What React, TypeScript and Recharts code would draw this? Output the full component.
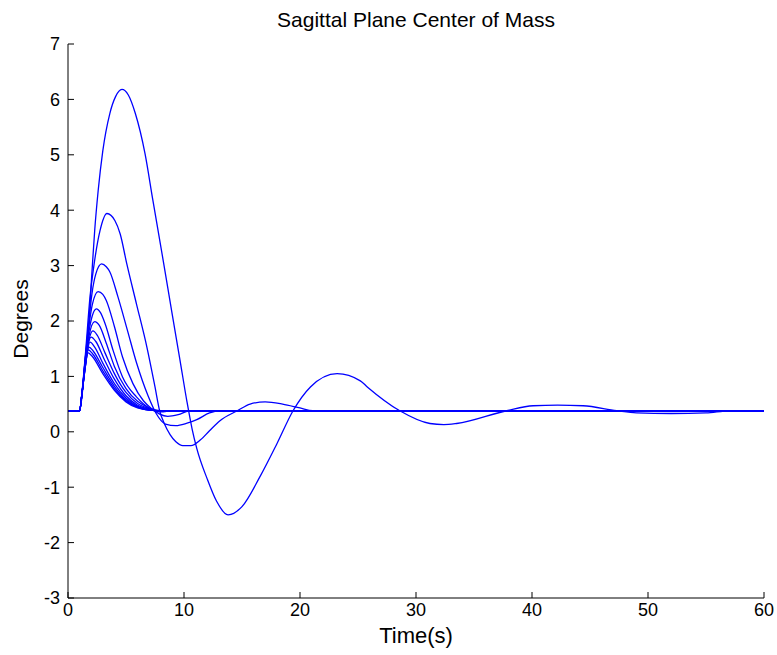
import React from 'react';
import { LineChart, Line, XAxis, YAxis } from 'recharts';

const xTicks = [0, 10, 20, 30, 40, 50, 60];
const yTicks = [-3, -2, -1, 0, 1, 2, 3, 4, 5, 6, 7];

const c1Time = [0, 1.0, 1.2, 1.45, 1.75, 2.07, 2.3, 2.6, 3.0, 3.6, 4.1, 4.65, 5.2, 5.8, 6.64, 7.3, 8.2, 9.0, 9.65, 10.25, 10.7, 11.1, 12.0, 12.8, 13.8, 15.0, 16.55, 18.0, 19.4, 20.9, 23.2, 25.2, 25.8, 28.6, 31.2, 32.4, 33.5, 37.8, 40.1, 42.2, 44.4, 47.3, 49, 52, 55, 57, 60];
const c1Deg = [0.38, 0.38, 0.63, 1.23, 1.82, 2.9, 3.63, 4.35, 5.07, 5.74, 6.05, 6.18, 6.08, 5.75, 5.02, 4.2, 3.1, 2.1, 1.3, 0.55, 0.05, -0.3, -0.85, -1.25, -1.5, -1.35, -0.81, -0.22, 0.38, 0.81, 1.05, 0.92, 0.81, 0.38, 0.15, 0.13, 0.15, 0.38, 0.47, 0.48, 0.47, 0.38, 0.34, 0.33, 0.34, 0.38, 0.38];

const c2Time = [0, 1.0, 1.2, 1.5, 1.9, 2.2, 2.76, 3.36, 4.05, 4.5, 5.07, 5.9, 6.8, 7.5, 7.9, 8.3, 8.8, 9.3, 9.9, 10.6, 11.4, 12.2, 13.1, 14.6, 15.7, 17.0, 18.5, 20.0, 21.1, 60];
const c2Deg = [0.38, 0.38, 0.7, 1.4, 2.44, 2.95, 3.63, 3.94, 3.81, 3.57, 3.03, 2.31, 1.53, 0.81, 0.38, 0.15, -0.05, -0.18, -0.25, -0.25, -0.15, 0.02, 0.2, 0.38, 0.5, 0.54, 0.5, 0.43, 0.38, 0.38];

const c3Time = [0, 1.0, 1.2, 1.5, 1.8, 2.07, 2.4, 2.9, 3.3, 3.6, 4.3, 5.1, 5.9, 6.9, 7.6, 8.4, 9.3, 10.2, 11.1, 12.2, 13.0, 60];
const c3Deg = [0.38, 0.38, 0.68, 1.35, 2.0, 2.5, 2.85, 3.03, 2.98, 2.89, 2.44, 1.85, 1.25, 0.65, 0.33, 0.14, 0.11, 0.15, 0.22, 0.34, 0.38, 0.38];

const c4Time = [0, 1.0, 1.2, 1.5, 1.8, 2.1, 2.6, 3.0, 3.3, 4.0, 4.7, 5.6, 6.5, 7.2, 7.9, 8.6, 9.5, 10.5, 60];
const c4Deg = [0.38, 0.38, 0.68, 1.33, 1.9, 2.3, 2.53, 2.48, 2.37, 1.9, 1.35, 0.87, 0.56, 0.42, 0.32, 0.28, 0.31, 0.38, 0.38];

const c5Time = [0, 1.0, 1.2, 1.5, 1.8, 2.1, 2.45, 2.8, 3.2, 3.9, 4.7, 5.9, 7.07, 8.0, 9.0, 60];
const c5Deg = [0.38, 0.38, 0.68, 1.3, 1.8, 2.1, 2.22, 2.15, 1.95, 1.46, 0.99, 0.63, 0.42, 0.36, 0.38, 0.38];

const c6Time = [0, 1.0, 1.2, 1.5, 1.8, 2.3, 2.7, 3.3, 4.0, 5.0, 6.0, 7.0, 8.0, 60];
const c6Deg = [0.38, 0.38, 0.68, 1.28, 1.72, 1.99, 1.92, 1.6, 1.18, 0.78, 0.55, 0.43, 0.38, 0.38];

const c7Time = [0, 1.0, 1.2, 1.5, 1.8, 2.15, 2.5, 3.2, 4.0, 5.0, 6.0, 7.0, 8.0, 60];
const c7Deg = [0.38, 0.38, 0.68, 1.25, 1.65, 1.82, 1.75, 1.42, 1.05, 0.71, 0.51, 0.42, 0.38, 0.38];

const c8Time = [0, 1.0, 1.2, 1.5, 1.75, 2.0, 2.4, 3.1, 4.0, 5.0, 6.0, 7.0, 8.0, 60];
const c8Deg = [0.38, 0.38, 0.68, 1.22, 1.6, 1.71, 1.63, 1.32, 0.95, 0.65, 0.48, 0.41, 0.38, 0.38];

const c9Time = [0, 1.0, 1.2, 1.5, 1.9, 2.3, 3.0, 4.0, 5.0, 6.0, 7.0, 8.0, 60];
const c9Deg = [0.38, 0.38, 0.68, 1.2, 1.62, 1.53, 1.24, 0.87, 0.61, 0.46, 0.4, 0.38, 0.38];

const c10Time = [0, 1.0, 1.2, 1.5, 1.8, 2.2, 3.0, 4.0, 5.0, 6.0, 7.0, 8.0, 60];
const c10Deg = [0.38, 0.38, 0.68, 1.18, 1.53, 1.45, 1.16, 0.82, 0.58, 0.45, 0.39, 0.38, 0.38];

const c11Time = [0, 1.0, 1.2, 1.45, 1.75, 2.15, 3.0, 4.0, 5.0, 6.0, 7.0, 8.0, 60];
const c11Deg = [0.38, 0.38, 0.68, 1.12, 1.48, 1.4, 1.1, 0.78, 0.56, 0.44, 0.39, 0.38, 0.38];

const c12Time = [0, 1.0, 1.2, 1.45, 1.7, 2.1, 3.0, 4.0, 5.0, 6.0, 7.0, 8.0, 60];
const c12Deg = [0.38, 0.38, 0.68, 1.1, 1.43, 1.36, 1.05, 0.75, 0.54, 0.43, 0.39, 0.38, 0.38];

const curves: [number[], number[]][] = [
  [c1Time, c1Deg], [c2Time, c2Deg], [c3Time, c3Deg], [c4Time, c4Deg],
  [c5Time, c5Deg], [c6Time, c6Deg], [c7Time, c7Deg], [c8Time, c8Deg],
  [c9Time, c9Deg], [c10Time, c10Deg], [c11Time, c11Deg], [c12Time, c12Deg],
];

const series = curves.map(([t, v]) => t.map((x, i) => ({ t: x, v: v[i] })));

const FONT = '"Liberation Sans", Arial, Helvetica, sans-serif';
const TICK_LEN = 6;
const X_MARGIN = 4;
const Y_MARGIN = 8;

const XTick = (props: any) => {
  const { x, y, payload } = props;
  const axisY = y - X_MARGIN;
  return (
    <g>
      <line x1={x} y1={axisY} x2={x} y2={axisY - TICK_LEN} stroke="#000" strokeWidth={1} />
      <text x={x} y={y} dy="0.8em" textAnchor="middle" fill="#000" fontSize={18} fontFamily={FONT}>
        {payload.value}
      </text>
    </g>
  );
};

const YTick = (props: any) => {
  const { x, y, payload } = props;
  const axisX = x + Y_MARGIN;
  return (
    <g>
      <line x1={axisX} y1={y} x2={axisX + TICK_LEN} y2={y} stroke="#000" strokeWidth={1} />
      <text x={x} y={y} dy="0.36em" textAnchor="end" fill="#000" fontSize={18} fontFamily={FONT}>
        {payload.value}
      </text>
    </g>
  );
};

const YLabel = (props: any) => {
  const vb = props.viewBox || { x: 0, y: 44, width: 68, height: 554 };
  const cx = vb.x + 20;
  const cy = vb.y + vb.height / 2 - 2;
  return (
    <text x={cx} y={cy} transform={`rotate(-90 ${cx} ${cy})`} textAnchor="middle"
      dominantBaseline="central" fill="#000" fontSize={21} fontFamily={FONT}>Degrees</text>
  );
};

const XLabel = (props: any) => {
  const vb = props.viewBox || { x: 68, y: 598, width: 696, height: 57 };
  const cx = vb.x + vb.width / 2;
  const cy = vb.y + 37;
  return (
    <text x={cx} y={cy} textAnchor="middle" dominantBaseline="central"
      fill="#000" fontSize={22} fontFamily={FONT}>Time(s)</text>
  );
};

export default function App() {
  return (
    <div style={{ position: 'absolute', left: 0, top: 0, width: 777, height: 655, background: '#fff' }}>
      <div style={{
        position: 'absolute', left: 216, top: 8, width: 400, textAlign: 'center',
        fontFamily: FONT, fontSize: 21, lineHeight: '24px', color: '#000',
      }}>Sagittal Plane Center of Mass</div>
      <LineChart width={777} height={655} margin={{ top: 44, right: 13, left: 0, bottom: 0 }}>
        <XAxis dataKey="t" type="number" domain={[0, 60]} ticks={xTicks} allowDataOverflow
          height={57} interval={0} tickSize={0} tickMargin={X_MARGIN} tickLine={false}
          tick={<XTick />} axisLine={{ stroke: '#000' }}
          label={<XLabel />} />
        <YAxis type="number" domain={[-3, 7]} ticks={yTicks} allowDataOverflow
          width={68} interval={0} tickSize={0} tickMargin={Y_MARGIN} tickLine={false}
          tick={<YTick />} axisLine={{ stroke: '#000' }}
          label={<YLabel />} />
        {series.map((d, i) => (
          <Line key={i} data={d} dataKey="v" type="monotone" stroke="#0000FF"
            strokeWidth={1.3} dot={false} activeDot={false} isAnimationActive={false} />
        ))}
      </LineChart>
    </div>
  );
}
